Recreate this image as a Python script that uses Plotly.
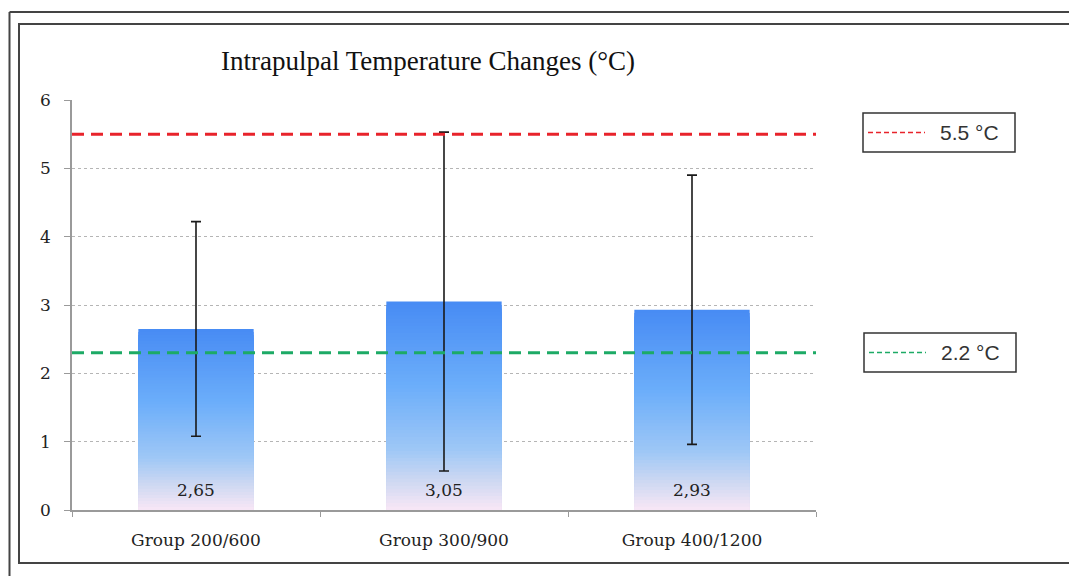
# plot.py
# Intrapulpal temperature changes - bar chart with SD error bars and reference lines

import plotly.graph_objects as go

# ── Data ──
groups = ['Group 200/600', 'Group 300/900', 'Group 400/1200']
mean_values = [2.65, 3.05, 2.93]
sd_values = [1.57, 2.48, 1.97]
bar_labels = ['2,65', '3,05', '2,93']

ref_values = [5.5, 2.3]
ref_labels = ['5.5 °C', '2.2 °C']
ref_colors = ['#E8232B', '#1DAA66']

y_ticks = [0, 1, 2, 3, 4, 5, 6]

# ── Layout constants (pixels of the 1077x576 reference) ──
W, H = 1077, 576
OFF = 8                                # page body margin
PL, PR, PT, PB = 72, 816, 100, 510     # plot area edges in the reference


def px_x(x):
    return (x - PL) / (PR - PL)


def px_y(y):
    return (PB - y) / (PB - PT)


# gradient stops for the bars: t = 0 at the top of a bar, 1 at the bottom
STOPS = [
    (0.00, (72, 140, 244)),
    (0.40, (108, 174, 250)),
    (0.70, (158, 199, 246)),
    (0.85, (205, 216, 242)),
    (1.00, (251, 232, 246)),
]


def grad_color(t):
    for (t0, c0), (t1, c1) in zip(STOPS[:-1], STOPS[1:]):
        if t <= t1:
            f = (t - t0) / (t1 - t0)
            c = [round(a + (b - a) * f) for a, b in zip(c0, c1)]
            return 'rgb({},{},{})'.format(*c)
    return 'rgb({},{},{})'.format(*STOPS[-1][1])


fig = go.Figure()

# Bars drawn as overlaid, progressively shorter bars -> vertical gradient
N = 60
for k in range(N):
    frac = 1 - k / N
    fig.add_trace(go.Bar(
        x=groups,
        y=[v * frac for v in mean_values],
        width=0.465,
        marker=dict(color=grad_color(k / N), line_width=0),
        showlegend=False,
        hoverinfo='skip',
    ))

# Error bars (mean ± SD)
fig.add_trace(go.Scatter(
    x=groups,
    y=mean_values,
    mode='markers',
    marker=dict(size=1, opacity=0),
    error_y=dict(type='data', array=sd_values, visible=True,
                 color='#1a1a1a', thickness=1.6, width=5),
    showlegend=False,
))

# Value labels at the base of the bars
for g, lab in zip(groups, bar_labels):
    fig.add_annotation(x=g, y=0, text=lab, showarrow=False,
                       yanchor='middle', yshift=20,
                       font=dict(family='DejaVu Serif', size=17, color='#222222'))

# Reference lines
for v, c in zip(ref_values, ref_colors):
    fig.add_hline(y=v, line=dict(color=c, width=3, dash='12px,7px'), layer='above')

# Legend boxes (drawn by hand, two separate boxes)
legend_boxes = [(863, 113, 1015, 152), (864, 333, 1016, 372)]
for (x0, y0, x1, y1), lab, c in zip(legend_boxes, ref_labels, ref_colors):
    fig.add_shape(type='rect', xref='paper', yref='paper',
                  x0=px_x(x0), x1=px_x(x1), y0=px_y(y0), y1=px_y(y1),
                  line=dict(color='#333333', width=1.5), fillcolor='white')
    ym = (y0 + y1) / 2
    fig.add_shape(type='line', xref='paper', yref='paper',
                  x0=px_x(x0 + 5), x1=px_x(x0 + 62), y0=px_y(ym), y1=px_y(ym),
                  line=dict(color=c, width=1.5, dash='5px,3px'))
    fig.add_annotation(xref='paper', yref='paper', x=px_x(x0 + 75), y=px_y(ym),
                       text=lab, showarrow=False, xanchor='left', yanchor='middle',
                       font=dict(family='Liberation Sans', size=21, color='#333333'))

# Frames around the chart
fig.add_shape(type='rect', xref='paper', yref='paper',
              x0=px_x(19), x1=px_x(1071), y0=px_y(24), y1=px_y(563),
              line=dict(color='#444444', width=2))
fig.add_shape(type='line', xref='paper', yref='paper',
              x0=px_x(9.5), x1=px_x(9.5), y0=px_y(12), y1=px_y(590),
              line=dict(color='#444444', width=2))
fig.add_shape(type='line', xref='paper', yref='paper',
              x0=px_x(9.5), x1=px_x(1090), y0=px_y(12), y1=px_y(12),
              line=dict(color='#444444', width=2))

fig.update_layout(
    width=W,
    height=H,
    barmode='overlay',
    plot_bgcolor='white',
    paper_bgcolor='white',
    margin=dict(l=PL - OFF, r=W - PR + OFF, t=PT - OFF, b=H - PB + OFF, pad=0),
    title=dict(
        text='Intrapulpal Temperature Changes (°C)',
        x=(428 - OFF) / W, xanchor='center', xref='container',
        y=1 - (61 - OFF) / H, yanchor='middle', yref='container',
        font=dict(family='Liberation Serif', size=27, color='#111111'),
    ),
    xaxis=dict(
        showline=True, linecolor='#9a9a9a', linewidth=2,
        ticks='outside', tickson='boundaries', ticklen=5, tickcolor='#9a9a9a',
        ticklabelstandoff=14,
        tickfont=dict(family='DejaVu Serif', size=17, color='#222222'),
        showgrid=False,
    ),
    yaxis=dict(
        range=[0, 6],
        tickvals=y_ticks,
        showline=True, linecolor='#9a9a9a', linewidth=1.5,
        ticks='outside', ticklen=6, tickcolor='#9a9a9a',
        ticklabelstandoff=10,
        tickfont=dict(family='DejaVu Serif', size=17, color='#222222'),
        showgrid=True, gridcolor='#b5b5b5', gridwidth=1, griddash='dot',
        zeroline=False,
    ),
    font=dict(family='DejaVu Serif'),
)

fig.write_html('out.html')
